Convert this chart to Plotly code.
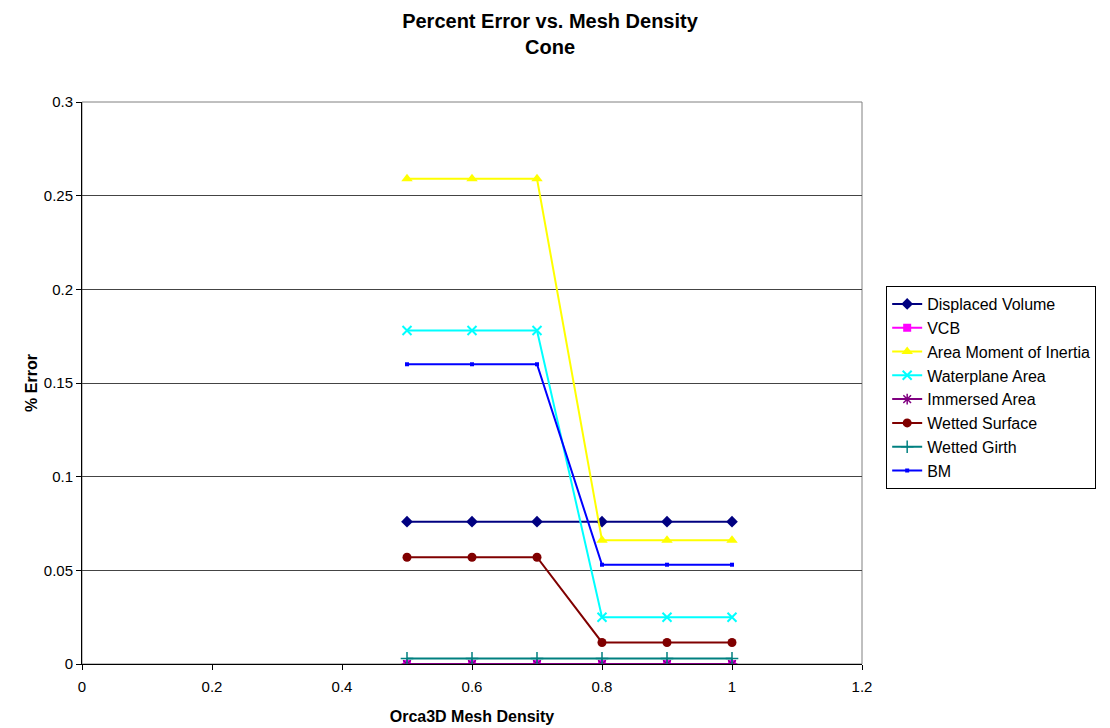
import plotly.graph_objects as go

mesh_density = [0.5, 0.6, 0.7, 0.8, 0.9, 1.0]

displaced_volume = [0.076, 0.076, 0.076, 0.076, 0.076, 0.076]
vcb = [0.0, 0.0, 0.0, 0.0, 0.0, 0.0]
area_moment = [0.259, 0.259, 0.259, 0.066, 0.066, 0.066]
waterplane_area = [0.178, 0.178, 0.178, 0.025, 0.025, 0.025]
immersed_area = [0.0, 0.0, 0.0, 0.0, 0.0, 0.0]
wetted_surface = [0.057, 0.057, 0.057, 0.0115, 0.0115, 0.0115]
wetted_girth = [0.003, 0.003, 0.003, 0.003, 0.003, 0.003]
bm = [0.160, 0.160, 0.160, 0.053, 0.053, 0.053]

series = [
    ("Displaced Volume", displaced_volume, "#000080", "diamond", 9, 0),
    ("VCB", vcb, "#FF00FF", "square", 8, 0),
    ("Area Moment of Inertia", area_moment, "#FFFF00", "triangle-up", 10, 0),
    ("Waterplane Area", waterplane_area, "#00FFFF", "x-thin", 9, 2),
    ("Immersed Area", immersed_area, "#800080", "asterisk", 9, 1.5),
    ("Wetted Surface", wetted_surface, "#800000", "circle", 9, 0),
    ("Wetted Girth", wetted_girth, "#008080", "cross-thin", 9, 1.5),
    ("BM", bm, "#0000FF", "square", 4, 0),
]

fig = go.Figure()
for i, (name, vals, color, symbol, size, lw) in enumerate(series):
    fig.add_trace(go.Scatter(
        x=mesh_density, y=vals, name=name, mode="lines+markers",
        legendgroup=f"g{i}",
        line=dict(color=color, width=2),
        marker=dict(symbol=symbol, size=size, color=color,
                    line=dict(color=color, width=lw)),
    ))

font = "Liberation Sans, Arial, sans-serif"
fig.update_layout(
    width=1110, height=728,
    margin=dict(l=74, r=256, t=94, b=72),
    paper_bgcolor="white", plot_bgcolor="white",
    font=dict(family=font, size=15, color="black"),
    title=dict(
        text="<b>Percent Error vs. Mesh Density</b><br><b>Cone</b>",
        x=0.6, xref="paper", xanchor="center",
        y=0.972, yanchor="top",
        font=dict(size=20, family=font),
    ),
    xaxis=dict(
        range=[0, 1.2], dtick=0.2, tickformat="~g",
        showgrid=False, zeroline=False,
        showline=True, linecolor="black", linewidth=1,
        ticks="outside", ticklen=5, tickcolor="black",
        ticklabelstandoff=4,
        title=dict(text="<b>Orca3D Mesh Density</b>", standoff=16,
                   font=dict(size=16)),
    ),
    yaxis=dict(
        range=[0, 0.3], dtick=0.05, tickformat="~g",
        showgrid=True, gridcolor="#444", gridwidth=1, zeroline=False,
        showline=True, linecolor="black", linewidth=1,
        ticks="outside", ticklen=5, tickcolor="black",
        title=dict(text="<b>% Error</b>", standoff=2,
                   font=dict(size=16)),
    ),
    legend=dict(
        x=1.031, y=0.6726, xanchor="left", yanchor="top",
        bordercolor="black", borderwidth=1, bgcolor="white",
        tracegroupgap=0, traceorder="grouped",
        font=dict(size=16),
    ),
    shapes=[dict(type="rect", xref="paper", yref="paper",
                 x0=0, x1=1, y0=0, y1=1,
                 line=dict(color="#808080", width=1), layer="below")],
)

fig.write_html("out.html")
